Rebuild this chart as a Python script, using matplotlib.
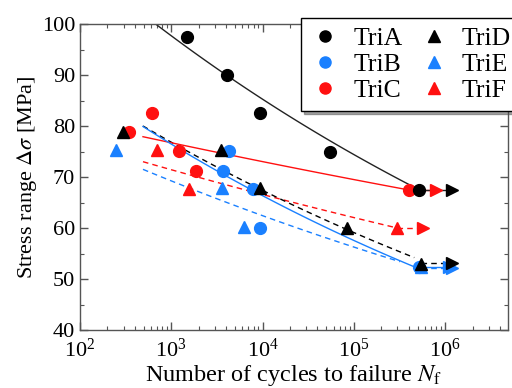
import numpy as np
import matplotlib
matplotlib.use("Agg")
import matplotlib.pyplot as plt
from matplotlib.lines import Line2D

plt.rcParams['font.family'] = ['Liberation Serif', 'DejaVu Serif']
plt.rcParams['mathtext.fontset'] = 'stix'

BLACK = '#000000'
BLUE = '#1a80ff'
RED = '#ff1010'

# ---- data (N cycles, stress range MPa) ----
triA_N = [1480, 4040, 9500, 55000, 5.2e5]
triA_S = [97.5, 90.0, 82.5, 75.0, 67.5]
triB_N = [3650, 4300, 7800, 9500, 5.2e5]
triB_S = [71.2, 75.1, 67.6, 60.0, 52.4]
triC_N = [345, 610, 1220, 1880, 4.0e5]
triC_S = [78.8, 82.5, 75.1, 71.2, 67.5]
triD_N = [296, 3550, 9300, 85000, 5.5e5]
triD_S = [78.8, 75.3, 67.8, 60.0, 53.0]
triE_N = [247, 3630, 6200, 5.5e5]
triE_S = [75.3, 67.8, 60.2, 52.4]
triF_N = [705, 1570, 3.0e5]
triF_S = [75.3, 67.6, 60.0]

# runout arrows: start point, arrow position
run_from_N = {'A': 5.2e5, 'B': 5.2e5, 'C': 4.0e5, 'D': 5.5e5, 'E': 5.5e5, 'F': 3.0e5}
run_to_N = {'A': 1.2e6, 'B': 1.1e6, 'C': 8.0e5, 'D': 1.2e6, 'E': 1.2e6, 'F': 5.8e5}
run_S = {'A': 67.5, 'B': 52.3, 'C': 67.5, 'D': 53.1, 'E': 52.1, 'F': 60.0}

# fitted S-N lines (power law between end points)
fit_N0 = {'A': 490, 'B': 490, 'C': 490, 'D': 490, 'E': 490, 'F': 490}
fit_N1 = {'A': 5.2e5, 'B': 5.2e5, 'C': 4.8e5, 'D': 4.6e5, 'E': 3.2e5, 'F': 3.0e5}
fit_S0 = {'A': 101.9, 'B': 79.9, 'C': 77.9, 'D': 80.0, 'E': 71.5, 'F': 73.0}
fit_S1 = {'A': 67.5, 'B': 52.0, 'C': 67.2, 'D': 54.2, 'E': 53.4, 'F': 60.0}

styles = {
    'A': dict(color='#222222', ls='-', mk='o', mc=BLACK),
    'B': dict(color=BLUE, ls='-', mk='o', mc=BLUE),
    'C': dict(color=RED, ls='-', mk='o', mc=RED),
    'D': dict(color=BLACK, ls=(0, (4, 3)), mk='^', mc=BLACK),
    'E': dict(color=BLUE, ls=(0, (4, 3)), mk='^', mc=BLUE),
    'F': dict(color=RED, ls=(0, (4, 3)), mk='^', mc=RED),
}
data = {'A': (triA_N, triA_S), 'B': (triB_N, triB_S), 'C': (triC_N, triC_S),
        'D': (triD_N, triD_S), 'E': (triE_N, triE_S), 'F': (triF_N, triF_S)}
labels = {'A': 'TriA', 'B': 'TriB', 'C': 'TriC', 'D': 'TriD', 'E': 'TriE', 'F': 'TriF'}

fig = plt.figure(figsize=(5.12, 3.88), dpi=100)
ax = fig.add_axes([80/512, 1-330/388, 428/512, 306/388])
ax.set_xscale('log')
ax.set_xlim(1e2, 10**6.69)
ax.set_ylim(40, 100)

# fit lines
for k in ['E', 'F', 'D', 'C', 'B', 'A']:
    st = styles[k]
    Ns = np.geomspace(fit_N0[k], fit_N1[k], 60)
    b = np.log10(fit_S1[k]/fit_S0[k]) / np.log10(fit_N1[k]/fit_N0[k])
    Ss = fit_S0[k] * (Ns/fit_N0[k])**b
    ax.plot(Ns, Ss, color=st['color'], ls=st['ls'], lw=1.0, zorder=2)

# runout shafts + arrows
for k in ['F', 'C', 'A', 'E', 'B', 'D']:
    st = styles[k]
    ax.plot([run_from_N[k], run_to_N[k]], [run_S[k], run_S[k]], color=st['color'],
            ls=st['ls'], lw=1.0, zorder=2)
    ax.plot([run_to_N[k]], [run_S[k]], marker='>', ms=8, color=st['mc'], ls='none', zorder=3)

# points
for k in ['E', 'B', 'F', 'C', 'D', 'A']:
    st = styles[k]
    N, S = data[k]
    ax.plot(N, S, marker=st['mk'], ms=8.5, color=st['mc'], ls='none', zorder=4)

ax.set_yticks(np.arange(40, 101, 10))
ax.set_yticks(np.arange(40, 101, 5), minor=True)
ax.tick_params(which='both', direction='in', top=True, right=True, labelsize=16,
               color='#555555')
ax.tick_params(axis='x', which='both', pad=6)
ax.tick_params(which='major', length=6, width=1)
ax.tick_params(which='minor', length=3, width=0.8)
for sp in ax.spines.values():
    sp.set_color('#555555')
    sp.set_linewidth(1)

ax.set_xlabel(r'Number of cycles to failure $\mathit{N}_\mathrm{f}$', fontsize=17.5, labelpad=1)
ax.set_ylabel(r'Stress range $\mathit{\Delta\sigma}$ [MPa]', fontsize=16, labelpad=2)

handles = [Line2D([], [], marker=styles[k]['mk'], color=styles[k]['mc'], ls='none', ms=8)
           for k in ['A', 'B', 'C', 'D', 'E', 'F']]
leg = fig.legend(handles, [labels[k] for k in ['A', 'B', 'C', 'D', 'E', 'F']],
                 ncol=2, loc='upper left', bbox_to_anchor=(301/512, 1-18/388),
                 borderaxespad=0,
                 fontsize=18.5, frameon=True, fancybox=False, shadow=True,
                 handlelength=1.2, handletextpad=0.5, labelspacing=0.12,
                 columnspacing=0.6, borderpad=0.35)
leg.get_frame().set_edgecolor('black')
leg.get_frame().set_linewidth(1)

fig.savefig('out.png', dpi=100)
